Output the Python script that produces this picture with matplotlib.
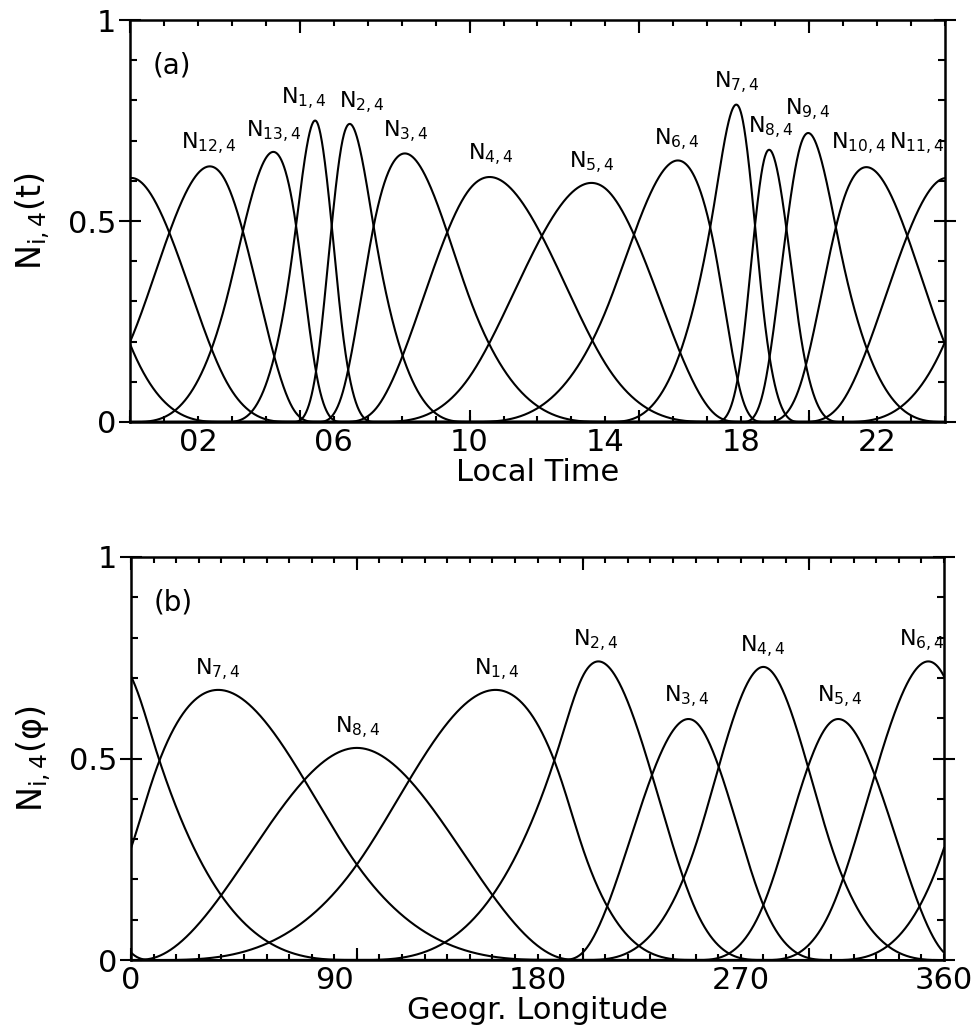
import numpy as np
import matplotlib
matplotlib.use('Agg')
import matplotlib.pyplot as plt
from matplotlib.ticker import FixedLocator, FuncFormatter, NullFormatter

plt.rcParams['font.family'] = ['DejaVu Sans']

# periodic knots of the cubic B-splines (basis i starts at knot i)
lt_knots = [2.80, 4.79, 5.51, 6.26, 7.24, 10.00, 14.04, 17.21, 18.02, 18.67, 19.75, 20.95, 24.06]
lon_knots = [10, 100, 190, 200, 250, 280, 310, 360]
lt_names = [1, 2, 3, 4, 5, 6, 7, 8, 9, 10, 11, 12, 13]
lon_names = [1, 2, 3, 4, 5, 6, 7, 8]

# where the N_{i,4} labels sit (data coords, baseline of the N)
lt_lab_x = [5.11, 6.82, 8.11, 10.62, 13.59, 16.09, 17.86, 18.86, 19.95, 21.45, 23.16, 2.31, 4.23]
lt_lab_y = [0.789, 0.781, 0.709, 0.652, 0.632, 0.689, 0.831, 0.719, 0.764, 0.677, 0.677, 0.677, 0.709]
lon_lab_x = [162, 206, 246, 280, 314, 350, 38.5, 100.5]
lon_lab_y = [0.707, 0.777, 0.638, 0.764, 0.638, 0.777, 0.707, 0.563]

lt_ticklabels = {2: '02', 6: '06', 10: '10', 14: '14', 18: '18', 22: '22'}
lon_ticklabels = {0: '0', 90: '90', 180: '180', 270: '270', 360: '360'}


def bspl(t, x):
    B = [((x >= t[i]) & (x < t[i + 1])).astype(float) for i in range(4)]
    for d in range(1, 4):
        B = [(x - t[i]) / (t[i + d] - t[i]) * B[i] + (t[i + d + 1] - x) / (t[i + d + 1] - t[i + 1]) * B[i + 1]
             for i in range(4 - d)]
    return B[0]


def periodic_basis(knots, period, x):
    n = len(knots)
    out = []
    for i in range(n):
        t = [knots[(i + j) % n] + period * ((i + j) // n) for j in range(5)]
        out.append(bspl(t, x) + bspl(t, x + period) + bspl(t, x - period))
    return out


def style(ax, xmax, long_ticks, minor_step, ticklabels):
    ax.set_xlim(0, xmax)
    ax.set_ylim(0, 1)
    ax.xaxis.set_major_locator(FixedLocator(long_ticks))
    ax.xaxis.set_major_formatter(NullFormatter())
    ax.xaxis.set_minor_locator(FixedLocator(np.arange(0, xmax + 1e-6, minor_step)))
    ax.xaxis.set_minor_formatter(FuncFormatter(lambda v, p: ticklabels.get(int(round(v)), '')))
    ax.xaxis.remove_overlapping_locs = False
    ax.yaxis.set_major_locator(FixedLocator([0, 0.5, 1]))
    ax.yaxis.set_major_formatter(FuncFormatter(lambda v, p: '%g' % v))
    ax.yaxis.set_minor_locator(FixedLocator(np.arange(0, 1.01, 0.1)))
    ax.tick_params(which='both', top=True, right=True, direction='in', width=1.5,
                   labelsize=22, colors='black')
    ax.tick_params(axis='x', which='major', length=9)
    ax.tick_params(axis='x', which='minor', length=4.5, pad=4)
    ax.tick_params(axis='y', which='major', direction='inout', length=16, pad=2)
    ax.tick_params(axis='y', which='minor', length=5)
    for s in ax.spines.values():
        s.set_linewidth(1.8)


fig = plt.figure(figsize=(9.75, 10.28), dpi=100)
ax1 = fig.add_axes([0.1333, 0.5895, 0.8359, 0.391])
ax2 = fig.add_axes([0.1344, 0.0661, 0.8338, 0.3921])

t = np.linspace(0, 24, 2401)
for b in periodic_basis(lt_knots, 24.0, t):
    ax1.plot(t, b, color='black', lw=1.5)
for i, x, y in zip(lt_names, lt_lab_x, lt_lab_y):
    ax1.text(x, y, r'$\mathregular{N_{%d,4}}$' % i, fontsize=16, ha='center', va='baseline')

phi = np.linspace(0, 360, 3601)
for b in periodic_basis(lon_knots, 360.0, phi):
    ax2.plot(phi, b, color='black', lw=1.5)
for i, x, y in zip(lon_names, lon_lab_x, lon_lab_y):
    ax2.text(x, y, r'$\mathregular{N_{%d,4}}$' % i, fontsize=16, ha='center', va='baseline')

style(ax1, 24, [0, 5, 10, 15, 20], 1, lt_ticklabels)
style(ax2, 360, [0, 100, 200, 300], 10, lon_ticklabels)

ax1.set_xlabel('Local Time', fontsize=22, labelpad=1)
ax2.set_xlabel('Geogr. Longitude', fontsize=22, labelpad=1)
ax1.set_ylabel(r'$\mathregular{N_{i,4}(t)}$', fontsize=24, labelpad=11)
ax2.set_ylabel(r'$\mathregular{N_{i,4}(φ)}$', fontsize=24, labelpad=11)
ax1.text(0.028, 0.888, '(a)', transform=ax1.transAxes, fontsize=20, va='center')
ax2.text(0.028, 0.888, '(b)', transform=ax2.transAxes, fontsize=20, va='center')

fig.savefig('out.png', dpi=100)
